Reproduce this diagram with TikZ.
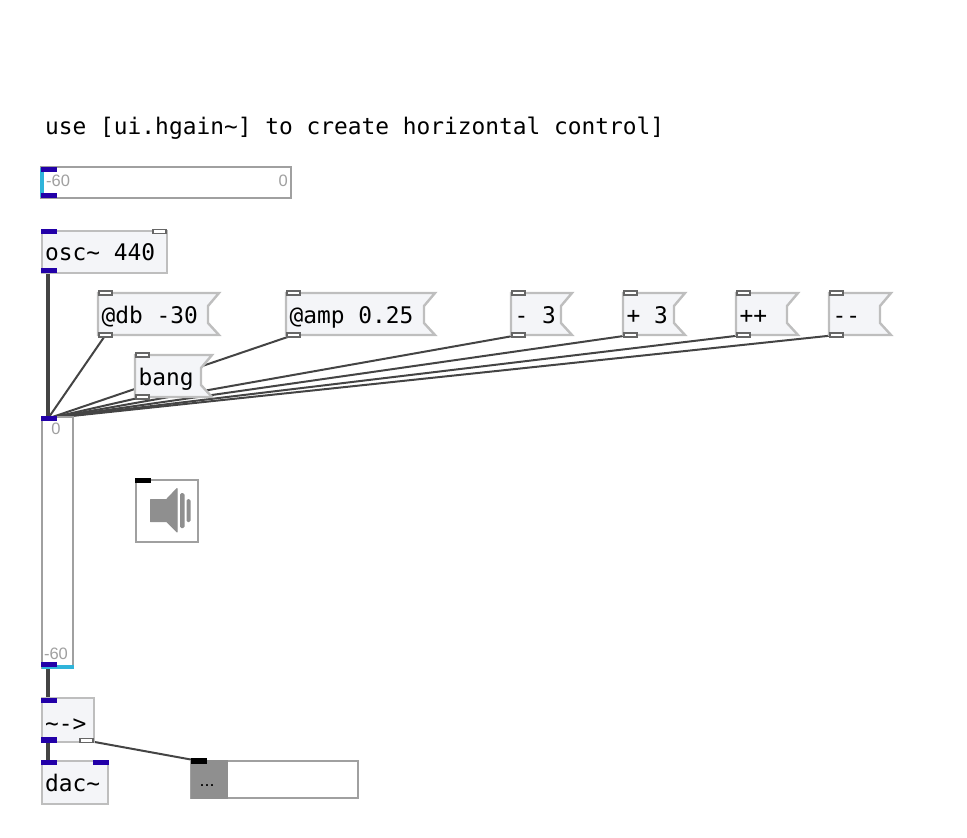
\documentclass[tikz,border=0pt]{standalone}
\usepackage{fontspec}
\newfontfamily\pdmono{DejaVu Sans Mono}
\newfontfamily\pdsans{Liberation Sans}
\usetikzlibrary{positioning}
\pgfdeclarelayer{wires}
\pgfsetlayers{wires,main}
\definecolor{sigblue}{HTML}{2200A8}
\definecolor{wiregray}{HTML}{444444}
\definecolor{boxgray}{HTML}{BEBEBE}
\definecolor{boxfill}{HTML}{F4F5F8}
\definecolor{uigray}{HTML}{A0A0A0}
\definecolor{spkgray}{HTML}{8F8F8F}
\definecolor{barcyan}{HTML}{2FB4DA}
\tikzset{
  objbox/.style={draw=boxgray,fill=boxfill,line width=2.4pt,anchor=north west,inner sep=0pt,outer sep=0pt},
  uibox/.style={draw=uigray,fill=white,line width=2.4pt,anchor=north west,inner sep=0pt,outer sep=0pt},
  objtext/.style={font=\pdmono\fontsize{22.85}{26}\selectfont,anchor=base west,inner sep=0pt},
  numtext/.style={font=\pdsans\fontsize{16.5}{18}\selectfont,text=uigray,inner sep=0pt},
  iolet/.style={minimum width=16pt,minimum height=5.5pt,inner sep=0pt,outer sep=0pt},
  sigio/.style={iolet,fill=sigblue},
  ctlio/.style={iolet,draw=black!60,fill=white,line width=1.7pt,minimum width=13.5pt,minimum height=4pt},
  blackio/.style={iolet,fill=black},
  sigwire/.style={draw=wiregray,line width=4.4pt},
  ctlwire/.style={draw=wiregray,line width=2pt}
}
\newcommand{\msgbox}[5]{%
  \draw[draw=boxgray,fill=boxfill,line width=2.4pt] (#2,#3) -- ++(#4,0) -- ++(-11,13)
    -- ++(0,17) -- ++(11,12) -- ++(-#4,0) -- cycle;
  \node[ctlio] (#1in) at (#2+7.5,#3+0) {};
  \node[ctlio] (#1out) at (#2+7.5,#3+42) {};
  \node[objtext] (#1txt) at (#2+3.5,#3+30) {#5};
}
\begin{document}
\begin{tikzpicture}[x=1pt,y=-1pt]
  \useasboundingbox (0,0) rectangle (967,838);
  \node[objtext] (title) at (45,134) {use [ui.hgain\string~] to create horizontal control]};
  % horizontal gain
  \node[uibox,minimum width=250pt,minimum height=31pt] (hgain) at (41,167) {};
  \fill[barcyan] (39.5,168) rectangle (44,197);
  \node[sigio] (hgainin) at (49,169.5) {};
  \node[sigio] (hgainout) at (49,195.5) {};
  \node[numtext,anchor=west] (hgainmin) at (46,181) {-60};
  \node[numtext,anchor=east] (hgainmax) at (288,181) {0};
  % osc
  \node[objbox,minimum width=125pt,minimum height=42pt] (osc) at (42,231) {};
  \node[objtext] (osctxt) at (45,260) {osc\string~ 440};
  \node[sigio] (oscin) at (49,231.5) {};
  \node[ctlio] (oscfreq) at (159.5,231.5) {};
  \node[sigio] (oscout) at (49,270.5) {};
  % messages
  \msgbox{db}{98}{293}{121}{@db -30}
  \msgbox{amp}{286}{293}{149}{@amp 0.25}
  \msgbox{minus}{511}{293}{61}{- 3}
  \msgbox{plus}{623}{293}{62}{+ 3}
  \msgbox{incr}{736}{293}{62}{++}
  \msgbox{decr}{829}{293}{62}{--}
  \msgbox{bang}{135}{355}{77}{bang}
  % vertical gain
  \node[uibox,minimum width=31pt,minimum height=251pt] (vgain) at (42,417) {};
  \fill[barcyan] (42,664.5) rectangle (73.5,669);
  \node[sigio] (vgainin) at (49,418.5) {};
  \node[sigio] (vgainout) at (49,664.5) {};
  \node[numtext] (vgainmax) at (56,429) {0};
  \node[numtext] (vgainmin) at (56,654) {-60};
  % speaker
  \node[uibox,minimum width=62pt,minimum height=62pt] (spk) at (136,480) {};
  \node[blackio] (spkin) at (143,480.5) {};
  \draw[fill=spkgray,draw=spkgray,line width=1pt,line join=round] (150.5,499.5) -- (166.5,499.5) -- (177,488.5) -- (177,532) -- (166.5,521.5) -- (150.5,521.5) -- cycle;
  \fill[spkgray,rounded corners=1.5pt] (180,493) rectangle (184.5,528);
  \fill[spkgray,rounded corners=1.5pt] (186.5,499) rectangle (190.5,522);
  % signal out
  \node[objbox,minimum width=52pt,minimum height=44pt] (thru) at (42,698) {};
  \node[objtext] (thrutxt) at (45,731) {\string~->};
  \node[sigio] (thruin) at (49,700.5) {};
  \node[sigio] (thruout) at (49,740) {};
  \node[ctlio] (thructl) at (86.5,740.5) {};
  \node[objbox,minimum width=66pt,minimum height=43pt] (dac) at (42,761) {};
  \node[objtext] (dactxt) at (45,791) {dac\string~};
  \node[sigio] (dacl) at (49,762.5) {};
  \node[sigio] (dacr) at (101,762.5) {};
  % print
  \node[uibox,minimum width=167pt,minimum height=37pt] (prt) at (191,761) {};
  \fill[spkgray] (191,760) rectangle (228,799);
  \node[blackio] (prtin) at (199,761) {};
  \node[font=\pdsans\fontsize{18}{20}\selectfont,inner sep=0pt,anchor=base] (prttxt) at (207,786) {...};
  % wires
  \begin{pgfonlayer}{wires}
    \draw[sigwire] ([xshift=-1pt]oscout.center) -- ([xshift=-1pt]vgainin.center);
    \draw[sigwire] ([xshift=-1pt]vgainout.center) -- ([xshift=-1pt]thruin.center);
    \draw[sigwire] ([xshift=-1pt]thruout.center) -- ([xshift=-1pt]dacl.center);
    \foreach \src in {dbout,ampout,minusout,plusout,incrout,decrout,bangout}
      \draw[ctlwire] (\src.center) -- ([xshift=-1pt]vgainin.center);
    \draw[ctlwire] (thructl.center) -- (prtin.center);
  \end{pgfonlayer}
\end{tikzpicture}
\end{document}
